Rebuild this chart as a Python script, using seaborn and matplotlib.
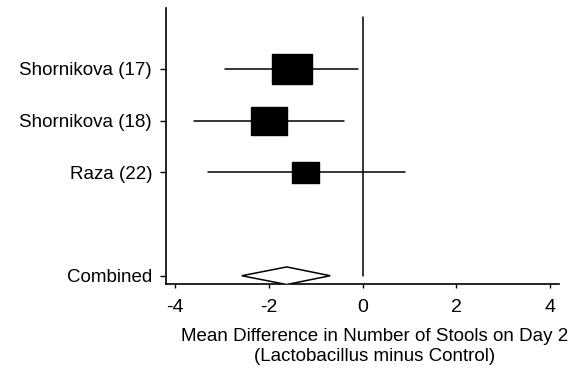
import matplotlib
matplotlib.use("Agg")
import matplotlib.pyplot as plt
from matplotlib.patches import Rectangle, Polygon
import seaborn as sns
import pandas as pd

# study estimates (mean difference, 95% CI)
studies = ["Shornikova (17)", "Shornikova (18)", "Raza (22)"]
study_rows = [4, 3, 2]
mean_diff = [-1.50, -2.00, -1.21]
ci_low = [-2.94, -3.60, -3.31]
ci_high = [-0.09, -0.39, 0.90]
box_width = [0.85, 0.77, 0.58]   # study weight, shown as box width

combined_label = "Combined"
combined_row = 0
combined_mean = -1.62
combined_low = -2.58
combined_high = -0.69

xticks = [-4, -2, 0, 2, 4]

df = pd.DataFrame({"study": studies, "row": study_rows, "md": mean_diff,
                   "lo": ci_low, "hi": ci_high, "w": box_width})

sns.set_style("ticks")
plt.rcParams['font.family'] = ['Liberation Sans', 'DejaVu Sans']

fig = plt.figure(figsize=(5.75, 3.73), dpi=100)
ax = fig.add_axes([166 / 575, 89 / 373, 393 / 575, 276 / 373])

# confidence intervals
sns.lineplot(x=pd.concat([df["lo"], df["hi"]]).values,
             y=pd.concat([df["row"], df["row"]]).values,
             units=pd.concat([df["study"], df["study"]]).values,
             estimator=None, color="black", lw=1.1, ax=ax, sort=False)

# weight boxes
for _, r in df.iterrows():
    h = r["w"] * 0.70
    ax.add_patch(Rectangle((r["md"] - r["w"] / 2, r["row"] - h / 2), r["w"], h,
                           facecolor="black", edgecolor="black", zorder=3))

# pooled diamond
dh = 0.17
ax.add_patch(Polygon([(combined_low, combined_row), (combined_mean, combined_row + dh),
                      (combined_high, combined_row), (combined_mean, combined_row - dh)],
                     closed=True, facecolor="white", edgecolor="black", lw=1.1, zorder=3))

# line of no effect
ax.plot([0, 0], [combined_row, 5], color="black", lw=1.1)

ax.set_xlim(-4.2, 4.2)
ax.set_ylim(-0.16, 5.18)
ax.set_xticks(xticks)
ax.set_xticklabels([str(t) for t in xticks], fontsize=14)
ax.set_yticks(study_rows + [combined_row])
ax.set_yticklabels(studies + [combined_label], fontsize=13.5)
ax.tick_params(axis="y", length=4, width=1, pad=6, colors="black")
ax.tick_params(axis="x", length=3, width=1, pad=8, colors="black")
sns.despine(ax=ax)
for s in ["left", "bottom"]:
    ax.spines[s].set_linewidth(1.2)
    ax.spines[s].set_color("black")

ax.set_xlabel("Mean Difference in Number of Stools on Day 2\n(Lactobacillus minus Control)",
              fontsize=13.5, linespacing=1.2, color="black")
ax.xaxis.set_label_coords(0.53, -0.16, transform=ax.transAxes)
ax.xaxis.label.set_verticalalignment("top")

fig.savefig("out.png", dpi=100, facecolor="white")
